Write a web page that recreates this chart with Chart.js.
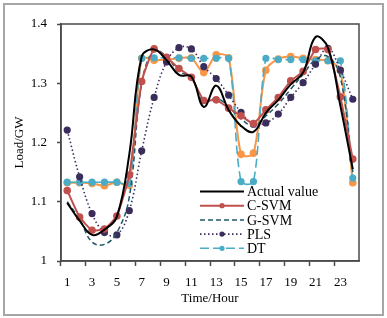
<!DOCTYPE html>
<html lang="en">

<head>
    <meta charset="UTF-8" />
    <title>Load forecast comparison</title>
    <script src="https://cdn.jsdelivr.net/npm/chart.js"></script>
    <style>
        body { margin: 0; background: #fff; }
        #wrap { position: relative; width: 387px; height: 318px; }
        #frame { position: absolute; left: 3px; top: 3px; width: 377px; height: 309px; border: 2px solid #a6a6a6; pointer-events: none; }
        canvas { position: absolute; left: 0; top: 0; }
    </style>
</head>

<body>
    <div id="wrap">
        <canvas id="grafica" width="387" height="318"></canvas>
        <div id="frame"></div>
    </div>

    <script>
        // hours of the day
        const horas = [1, 2, 3, 4, 5, 6, 7, 8, 9, 10, 11, 12, 13, 14, 15, 16, 17, 18, 19, 20, 21, 22, 23, 24];

        // load in GW
        const actual = [1.098, 1.068, 1.044, 1.053, 1.075, 1.180, 1.345, 1.357, 1.339, 1.314, 1.311, 1.260, 1.296, 1.255, 1.228, 1.218, 1.250, 1.272, 1.298, 1.318, 1.378, 1.360, 1.262, 1.155];
        const cSvm = [1.119, 1.074, 1.052, 1.054, 1.076, 1.145, 1.303, 1.358, 1.344, 1.325, 1.310, 1.271, 1.272, 1.258, 1.245, 1.232, 1.255, 1.276, 1.304, 1.320, 1.357, 1.357, 1.277, 1.172];
        const gSvm = [1.100, 1.070, 1.032, 1.028, 1.048, 1.108, 1.300, 1.355, 1.345, 1.320, 1.310, 1.268, 1.275, 1.260, 1.240, 1.228, 1.245, 1.265, 1.290, 1.315, 1.340, 1.345, 1.310, 1.150];
        const pls = [1.221, 1.142, 1.080, 1.048, 1.044, 1.085, 1.186, 1.276, 1.336, 1.360, 1.358, 1.328, 1.308, 1.280, 1.251, 1.231, 1.233, 1.248, 1.276, 1.301, 1.332, 1.359, 1.322, 1.273];
        const dt = [1.133, 1.133, 1.133, 1.133, 1.133, 1.131, 1.342, 1.343, 1.343, 1.343, 1.342, 1.342, 1.342, 1.342, 1.134, 1.134, 1.342, 1.340, 1.340, 1.340, 1.338, 1.338, 1.338, 1.140];
        // orange series, no legend entry in the figure
        const naranja = [1.132, 1.132, 1.131, 1.127, 1.133, 1.128, 1.342, 1.339, 1.340, 1.342, 1.343, 1.318, 1.348, 1.343, 1.180, 1.182, 1.322, 1.341, 1.345, 1.342, 1.340, 1.338, 1.322, 1.132];

        const yTicks = [1, 1.1, 1.2, 1.3, 1.4];

        const fuente = "'Liberation Serif', 'Times New Roman', serif";
        const ejeColor = '#4a4a4a';

        // frame around the plot area
        const marcoPlugin = {
            id: 'marco',
            afterDraw(chart) {
                const { ctx, chartArea: a } = chart;
                ctx.save();
                ctx.strokeStyle = ejeColor;
                ctx.lineWidth = 1.5;
                ctx.strokeRect(a.left, a.top, a.right - a.left, a.bottom - a.top);
                ctx.restore();
            }
        };

        // legend drawn inside the plot, lower right
        const leyendaPlugin = {
            id: 'leyenda',
            afterDraw(chart) {
                const { ctx, chartArea: a } = chart;
                const x0 = a.left + 139;
                let y = a.bottom - 69.5;
                ctx.save();
                ctx.font = "14px " + fuente;
                ctx.textBaseline = 'middle';
                chart.data.datasets.forEach(ds => {
                    if (!ds.label) return;
                    ctx.strokeStyle = ds.borderColor;
                    ctx.lineWidth = ds.borderWidth;
                    ctx.setLineDash(ds.borderDash || []);
                    ctx.beginPath();
                    ctx.moveTo(x0, y);
                    ctx.lineTo(x0 + 44, y);
                    ctx.stroke();
                    ctx.setLineDash([]);
                    if (ds.pointRadius > 0) {
                        ctx.fillStyle = ds.borderColor;
                        ctx.beginPath();
                        ctx.arc(x0 + 22, y, 2.6, 0, Math.PI * 2);
                        ctx.fill();
                    }
                    ctx.fillStyle = '#000';
                    ctx.fillText(ds.label, x0 + 47, y + 1);
                    y += 14.2;
                });
                ctx.restore();
            }
        };

        const ctx = document.getElementById('grafica').getContext('2d');
        new Chart(ctx, {
            type: 'line',
            data: {
                labels: horas,
                datasets: [
                    { label: 'Actual value', data: actual, borderColor: '#000000', borderWidth: 2, pointRadius: 0, tension: 0.4 },
                    { label: 'C-SVM', data: cSvm, borderColor: '#c0504d', backgroundColor: '#c0504d', borderWidth: 2, pointRadius: 2.8, tension: 0.15 },
                    { label: 'G-SVM', data: gSvm, borderColor: '#215968', borderWidth: 1.5, borderDash: [5, 3], pointRadius: 0, tension: 0.4 },
                    { label: 'PLS', data: pls, borderColor: '#3b2d5c', backgroundColor: '#3b2d5c', borderWidth: 1.6, borderDash: [1.5, 2.5], pointRadius: 2.8, tension: 0.4 },
                    { label: 'DT', data: dt, borderColor: '#4bacc6', backgroundColor: '#4bacc6', borderWidth: 1.6, borderDash: [9, 4], pointRadius: 2.8, tension: 0.3 },
                    { label: '', data: naranja, borderColor: '#f79646', backgroundColor: '#f79646', borderWidth: 2, pointRadius: 2.8, tension: 0.3 }
                ]
            },
            options: {
                responsive: false,
                animation: false,
                layout: { padding: { left: 0, top: 24, right: 28, bottom: 0 } },
                plugins: {
                    legend: { display: false },
                    tooltip: { enabled: false }
                },
                scales: {
                    x: {
                        type: 'category',
                        offset: true,
                        afterFit(s) { s.height = 57; },
                        grid: {
                            offset: true,
                            drawOnChartArea: false,
                            drawTicks: true,
                            tickLength: 5,
                            tickWidth: 1.5,
                            tickColor: c => (c.index % 2 === 0 ? ejeColor : 'rgba(0,0,0,0)')
                        },
                        border: { color: ejeColor, width: 1.5 },
                        ticks: {
                            autoSkip: false,
                            maxRotation: 0,
                            padding: 9,
                            color: '#000',
                            font: { family: fuente, size: 13 },
                            callback: (v, i) => (i % 2 === 0 ? horas[i] : '')
                        },
                        title: {
                            display: true,
                            text: 'Time/Hour',
                            color: '#000',
                            font: { family: fuente, size: 13 },
                            padding: { top: 0, bottom: 12 }
                        }
                    },
                    y: {
                        min: 1,
                        max: 1.4,
                        afterFit(s) { s.width = 61; },
                        afterBuildTicks(s) { s.ticks = yTicks.map(v => ({ value: v })); },
                        grid: {
                            drawOnChartArea: false,
                            drawTicks: true,
                            tickLength: 4,
                            tickWidth: 1.5,
                            tickColor: ejeColor
                        },
                        border: { color: ejeColor, width: 1.5 },
                        ticks: {
                            padding: 10,
                            color: '#000',
                            font: { family: fuente, size: 13 },
                            callback: v => (v === 1 ? '1' : v.toFixed(1))
                        },
                        title: {
                            display: true,
                            text: 'Load/GW',
                            color: '#000',
                            font: { family: fuente, size: 13 },
                            padding: { top: 12, bottom: 0 }
                        }
                    }
                }
            },
            plugins: [marcoPlugin, leyendaPlugin]
        });
    </script>
</body>

</html>
